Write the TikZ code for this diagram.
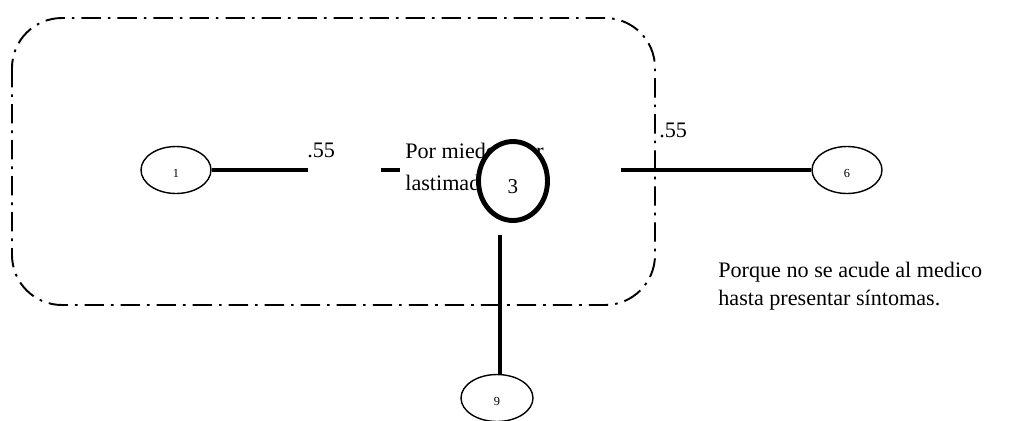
\documentclass[tikz,border=0pt]{standalone}
\usepackage{fontspec}
\setmainfont{Liberation Serif}
\usetikzlibrary{shapes.geometric}

\begin{document}
\begin{tikzpicture}[x=0.02cm,y=-0.02cm,
  vertex/.style={ellipse,draw,line width=0.8pt,fill=white,minimum width=1.4cm,minimum height=0.94cm,inner sep=0pt,text height=9pt,font=\scriptsize},
  link/.style={line width=2pt},
  frame/.style={line width=1.1pt,dash pattern=on 11pt off 4pt on 1.5pt off 4pt,rounded corners=1cm},
  note/.style={align=left,inner sep=0pt,font=\fontsize{12.6}{15.5}\selectfont}]
\useasboundingbox (0,0) rectangle (1010,420);
\draw[frame] (12,18) rectangle (655,305);
% texts (base anchor sits on the last line)
\node[note,anchor=base west] (miedo) at (405,190) {Por miedo a ser\\[2.5pt]lastimado};
\node[note,anchor=base west] (w13) at (307,157) {.55};
\node[note,anchor=base west] (w36) at (659,137) {.55};
\node[note,anchor=base west] (porque) at (718,305) {Porque no se acude al medico\\hasta presentar síntomas.};
% nodes
\node[vertex] (1) at (176,170) {1};
\node[vertex] (3) [minimum width=1.38cm,minimum height=1.58cm,line width=2.8pt,text height=14pt,font=\large] at (513,181) {3};
\node[vertex] (6) at (847,170) {6};
\node[vertex] (9) [minimum width=1.44cm] at (497,398) {9};
% loose ends of the links
\coordinate (a1) at (308,170);
\coordinate (b1) at (381,170);
\coordinate (b2) at (400,170);
\coordinate (a6) at (621,170);
\coordinate (a9) at (500,235);
\path[link]
(1) edge (a1)
(b1) edge (b2)
(a6) edge (6)
(a9) edge (a9 |- 9.north);
\end{tikzpicture}
\end{document}
